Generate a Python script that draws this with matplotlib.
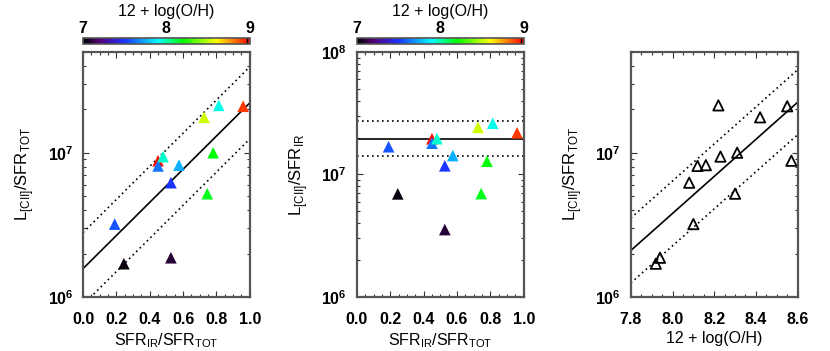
import numpy as np
import matplotlib
matplotlib.use("Agg")
import matplotlib.pyplot as plt
from matplotlib.colors import LinearSegmentedColormap, Normalize
from matplotlib.cm import ScalarMappable
from matplotlib.ticker import MultipleLocator, LogLocator, NullFormatter

plt.rcParams["font.family"] = ["Liberation Sans", "DejaVu Sans"]
plt.rcParams["mathtext.fontset"] = "custom"
plt.rcParams["mathtext.rm"] = "Liberation Sans"
plt.rcParams["mathtext.bf"] = "Liberation Sans:bold"

# galaxies: SFR_IR/SFR_TOT, L[CII]/SFR_TOT, 12+log(O/H)
sfr_frac = [0.19, 0.245, 0.527, 0.45, 0.45, 0.48, 0.575, 0.527, 0.726, 0.814, 0.96, 0.78, 0.745]
lcii_tot = [3.2e6, 1.7e6, 1.87e6, 8.8e6, 8.1e6, 9.4e6, 8.2e6, 6.2e6, 1.76e7, 2.13e7, 2.1e7, 1.0e7, 5.2e6]
metal = [8.10, 7.92, 7.94, 8.57, 8.12, 8.23, 8.16, 8.08, 8.42, 8.22, 8.55, 8.31, 8.30]

# fits: log10(y) = a + b*(x - x_ref), +/- scatter (dex)
fit1 = (0.0, 6.196, 1.15, 0.25)
fit2 = (0.0, 7.293, 0.0, 0.145)
fit3 = (7.8, 6.322, 1.285, 0.225)

sfr_frac = np.array(sfr_frac)
lcii_tot = np.array(lcii_tot)
metal = np.array(metal)
lcii_ir = lcii_tot / sfr_frac

cmap = LinearSegmentedColormap.from_list("idlrainbow", [
    (0.0, (0, 0, 0)), (0.1, (0.33, 0, 0.48)), (0.25, (0.1, 0.2, 1.0)),
    (0.45, (0, 1, 1)), (0.6, (0, 1, 0)), (0.8, (1, 1, 0)),
    (0.9, (1, 0.5, 0)), (1.0, (1, 0, 0))])
pnorm = Normalize(7.91, 8.58)
cnorm = Normalize(7, 9)

frame = "#555555"
fig = plt.figure(figsize=(8.3, 3.51), dpi=100)
lefts = [0.100, 0.430, 0.760]
axs = [fig.add_axes([l, 0.154, 0.201, 0.698]) for l in lefts]


def style(ax, xmin, xmax, xmaj, xmin_step, ylo, yhi):
    ax.set_xlim(xmin, xmax)
    ax.set_yscale("log")
    ax.set_ylim(ylo, yhi)
    ax.xaxis.set_major_locator(MultipleLocator(xmaj))
    ax.xaxis.set_minor_locator(MultipleLocator(xmin_step))
    ax.yaxis.set_major_locator(LogLocator(10, numticks=10))
    ax.yaxis.set_minor_locator(LogLocator(10, subs=np.arange(2, 10), numticks=10))
    ax.yaxis.set_minor_formatter(NullFormatter())
    ax.tick_params(which="both", direction="in", top=True, right=True, color="#333333",
                   labelsize=11.5, width=0.8)
    ax.tick_params(which="major", length=4)
    ax.tick_params(axis="x", which="major", pad=11)
    ax.tick_params(axis="y", which="major", pad=7)
    ax.tick_params(which="minor", length=2)
    for lab in ax.get_xticklabels() + ax.get_yticklabels():
        lab.set_fontweight("bold")
    for s in ax.spines.values():
        s.set_color(frame)
        s.set_linewidth(1.6)


def fitlines(ax, x0, x1, fit):
    xs = np.array([x0, x1])
    xr, a, b, s = fit
    for off, ls in [(0, "-"), (s, (0, (1, 2))), (-s, (0, (1, 2)))]:
        ax.plot(xs, 10 ** (a + off + b * (xs - xr)), color="k", lw=1.2, ls=ls)


sfr_label = r"SFR$_{\mathregular{IR}}$/SFR$_{\mathregular{TOT}}$"

# panel 1
ax = axs[0]
fitlines(ax, 0, 1, fit1)
ax.scatter(sfr_frac, lcii_tot, c=metal, cmap=cmap, norm=pnorm, marker="^", s=70,
           edgecolors="none", zorder=3)
style(ax, 0, 1, 0.2, 0.05, 1e6, 5e7)
ax.set_xlabel(sfr_label, fontsize=11.5, labelpad=3)
ax.set_ylabel(r"L$_{\mathregular{[CII]}}$/SFR$_{\mathregular{TOT}}$", fontsize=12, labelpad=8)

# panel 2
ax = axs[1]
fitlines(ax, 0, 1, fit2)
ax.scatter(sfr_frac, lcii_ir, c=metal, cmap=cmap, norm=pnorm, marker="^", s=70,
           edgecolors="none", zorder=3)
style(ax, 0, 1, 0.2, 0.05, 1e6, 1e8)
ax.set_xlabel(sfr_label, fontsize=11.5, labelpad=3)
ax.set_ylabel(r"L$_{\mathregular{[CII]}}$/SFR$_{\mathregular{IR}}$", fontsize=12, labelpad=8)

# panel 3
ax = axs[2]
fitlines(ax, 7.8, 8.6, fit3)
ax.scatter(metal, lcii_tot, marker="^", s=55, facecolors="none", edgecolors="k",
           linewidths=1.3, zorder=3)
style(ax, 7.8, 8.6, 0.2, 0.05, 1e6, 5e7)
ax.set_xlabel("12 + log(O/H)", fontsize=11.5, labelpad=3)
ax.set_ylabel(r"L$_{\mathregular{[CII]}}$/SFR$_{\mathregular{TOT}}$", fontsize=12, labelpad=8)

# colorbars over panels 1 and 2
for l in lefts[:2]:
    cax = fig.add_axes([l, 0.875, 0.201, 0.017])
    cb = fig.colorbar(ScalarMappable(norm=cnorm, cmap=cmap), cax=cax, orientation="horizontal")
    cb.set_ticks([7, 8, 9])
    cax.xaxis.set_ticks_position("top")
    cax.tick_params(length=0, labelsize=11.5, pad=1.5)
    for lab in cax.get_xticklabels():
        lab.set_fontweight("bold")
    fig.text(l + 0.1005, 0.966, "12 + log(O/H)", fontsize=11.5, ha="center", va="center")
    cb.outline.set_edgecolor(frame)
    cb.outline.set_linewidth(1.2)
    cax.axvline(8.97, color="k", lw=1)

fig.savefig("out.png", dpi=100)
